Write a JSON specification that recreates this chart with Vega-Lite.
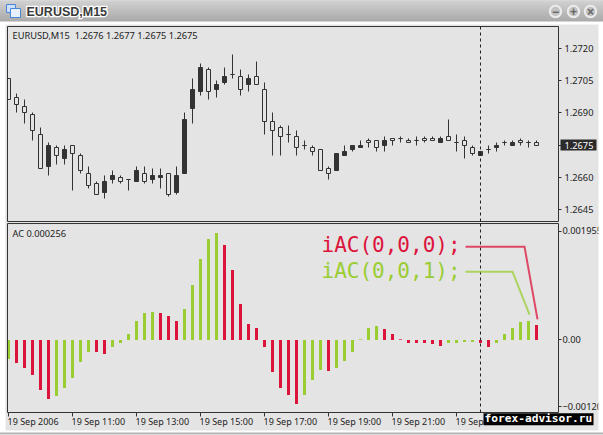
{
"$schema":"https://vega.github.io/schema/vega-lite/v6.json",
"width":603,"height":435,"autosize":{"type":"none"},"padding":{"left":0.5,"top":0.5,"right":0,"bottom":0},
"background":"#e4e4e4",
"config":{"view":{"stroke":null},"style":{"guide-label":{"font":"Noto Sans"}}},
"datasets":{
"bars":[
{"time":"2006-09-19T09:00:00Z","open":1.2706,"high":1.2706,"low":1.2696,"close":1.2696,"ac":-0.000342,"trend":"rising"},
{"time":"2006-09-19T09:15:00Z","open":1.2697,"high":1.2699,"low":1.2690,"close":1.2694,"ac":-0.000414,"trend":"falling"},
{"time":"2006-09-19T09:30:00Z","open":1.2693,"high":1.2696,"low":1.2685,"close":1.2690,"ac":-0.000504,"trend":"falling"},
{"time":"2006-09-19T09:45:00Z","open":1.2689,"high":1.2690,"low":1.2677,"close":1.2682,"ac":-0.000629,"trend":"falling"},
{"time":"2006-09-19T10:00:00Z","open":1.2680,"high":1.2683,"low":1.2664,"close":1.2664,"ac":-0.000899,"trend":"falling"},
{"time":"2006-09-19T10:15:00Z","open":1.2665,"high":1.2676,"low":1.2661,"close":1.2675,"ac":-0.001061,"trend":"falling"},
{"time":"2006-09-19T10:30:00Z","open":1.2674,"high":1.2675,"low":1.2666,"close":1.2670,"ac":-0.001007,"trend":"rising"},
{"time":"2006-09-19T10:45:00Z","open":1.2669,"high":1.2675,"low":1.2666,"close":1.2673,"ac":-0.000863,"trend":"rising"},
{"time":"2006-09-19T11:00:00Z","open":1.2675,"high":1.2675,"low":1.2654,"close":1.2671,"ac":-0.000683,"trend":"rising"},
{"time":"2006-09-19T11:15:00Z","open":1.2670,"high":1.2671,"low":1.2662,"close":1.2663,"ac":-0.000396,"trend":"rising"},
{"time":"2006-09-19T11:30:00Z","open":1.2662,"high":1.2665,"low":1.2655,"close":1.2656,"ac":-0.000216,"trend":"rising"},
{"time":"2006-09-19T11:45:00Z","open":1.2657,"high":1.2658,"low":1.2652,"close":1.2652,"ac":-0.000216,"trend":"falling"},
{"time":"2006-09-19T12:00:00Z","open":1.2653,"high":1.2661,"low":1.2650,"close":1.2658,"ac":-0.000252,"trend":"falling"},
{"time":"2006-09-19T12:15:00Z","open":1.2659,"high":1.2663,"low":1.2657,"close":1.2661,"ac":-0.000126,"trend":"rising"},
{"time":"2006-09-19T12:30:00Z","open":1.2660,"high":1.2661,"low":1.2657,"close":1.2658,"ac":-0.000054,"trend":"rising"},
{"time":"2006-09-19T12:45:00Z","open":1.2659,"high":1.2659,"low":1.2654,"close":1.2659,"ac":0.000108,"trend":"rising"},
{"time":"2006-09-19T13:00:00Z","open":1.2658,"high":1.2665,"low":1.2658,"close":1.2663,"ac":0.000342,"trend":"rising"},
{"time":"2006-09-19T13:15:00Z","open":1.2662,"high":1.2665,"low":1.2657,"close":1.2658,"ac":0.000486,"trend":"rising"},
{"time":"2006-09-19T13:30:00Z","open":1.2659,"high":1.2664,"low":1.2657,"close":1.2661,"ac":0.000504,"trend":"rising"},
{"time":"2006-09-19T13:45:00Z","open":1.2660,"high":1.2664,"low":1.2655,"close":1.2661,"ac":0.000486,"trend":"falling"},
{"time":"2006-09-19T14:00:00Z","open":1.2662,"high":1.2662,"low":1.2651,"close":1.2652,"ac":0.000432,"trend":"falling"},
{"time":"2006-09-19T14:15:00Z","open":1.2653,"high":1.2665,"low":1.2652,"close":1.2661,"ac":0.000342,"trend":"falling"},
{"time":"2006-09-19T14:30:00Z","open":1.2662,"high":1.2690,"low":1.2662,"close":1.2687,"ac":0.000558,"trend":"rising"},
{"time":"2006-09-19T14:45:00Z","open":1.2692,"high":1.2706,"low":1.2685,"close":1.2701,"ac":0.000989,"trend":"rising"},
{"time":"2006-09-19T15:00:00Z","open":1.2700,"high":1.2713,"low":1.2698,"close":1.2711,"ac":0.001457,"trend":"rising"},
{"time":"2006-09-19T15:15:00Z","open":1.2710,"high":1.2711,"low":1.2696,"close":1.2700,"ac":0.001817,"trend":"rising"},
{"time":"2006-09-19T15:30:00Z","open":1.2701,"high":1.2705,"low":1.2697,"close":1.2703,"ac":0.001924,"trend":"rising"},
{"time":"2006-09-19T15:45:00Z","open":1.2704,"high":1.2711,"low":1.2703,"close":1.2707,"ac":0.001709,"trend":"falling"},
{"time":"2006-09-19T16:00:00Z","open":1.2708,"high":1.2717,"low":1.2706,"close":1.2708,"ac":0.001259,"trend":"falling"},
{"time":"2006-09-19T16:15:00Z","open":1.2707,"high":1.2710,"low":1.2698,"close":1.2701,"ac":0.000647,"trend":"falling"},
{"time":"2006-09-19T16:30:00Z","open":1.2703,"high":1.2708,"low":1.2700,"close":1.2706,"ac":0.000288,"trend":"falling"},
{"time":"2006-09-19T16:45:00Z","open":1.2707,"high":1.2714,"low":1.2703,"close":1.2703,"ac":0.000216,"trend":"falling"},
{"time":"2006-09-19T17:00:00Z","open":1.2701,"high":1.2704,"low":1.2680,"close":1.2686,"ac":-0.000126,"trend":"falling"},
{"time":"2006-09-19T17:15:00Z","open":1.2686,"high":1.2690,"low":1.2670,"close":1.2682,"ac":-0.000576,"trend":"falling"},
{"time":"2006-09-19T17:30:00Z","open":1.2683,"high":1.2684,"low":1.2670,"close":1.2679,"ac":-0.000863,"trend":"falling"},
{"time":"2006-09-19T17:45:00Z","open":1.2680,"high":1.2684,"low":1.2676,"close":1.2680,"ac":-0.000989,"trend":"falling"},
{"time":"2006-09-19T18:00:00Z","open":1.2679,"high":1.2682,"low":1.2670,"close":1.2674,"ac":-0.001151,"trend":"falling"},
{"time":"2006-09-19T18:15:00Z","open":1.2675,"high":1.2677,"low":1.2673,"close":1.2675,"ac":-0.000989,"trend":"rising"},
{"time":"2006-09-19T18:30:00Z","open":1.2674,"high":1.2675,"low":1.2670,"close":1.2672,"ac":-0.000719,"trend":"rising"},
{"time":"2006-09-19T18:45:00Z","open":1.2673,"high":1.2673,"low":1.2663,"close":1.2663,"ac":-0.00054,"trend":"rising"},
{"time":"2006-09-19T19:00:00Z","open":1.2664,"high":1.2665,"low":1.2659,"close":1.2662,"ac":-0.000558,"trend":"falling"},
{"time":"2006-09-19T19:15:00Z","open":1.2663,"high":1.2671,"low":1.2663,"close":1.2671,"ac":-0.000504,"trend":"rising"},
{"time":"2006-09-19T19:30:00Z","open":1.2670,"high":1.2675,"low":1.2670,"close":1.2672,"ac":-0.000378,"trend":"rising"},
{"time":"2006-09-19T19:45:00Z","open":1.2673,"high":1.2675,"low":1.2672,"close":1.2675,"ac":-0.000216,"trend":"rising"},
{"time":"2006-09-19T20:00:00Z","open":1.2674,"high":1.2677,"low":1.2674,"close":1.2675,"ac":0.000012,"trend":"rising"},
{"time":"2006-09-19T20:15:00Z","open":1.2677,"high":1.2678,"low":1.2674,"close":1.2676,"ac":0.000216,"trend":"rising"},
{"time":"2006-09-19T20:30:00Z","open":1.2677,"high":1.2677,"low":1.2672,"close":1.2674,"ac":0.000252,"trend":"rising"},
{"time":"2006-09-19T20:45:00Z","open":1.2675,"high":1.2679,"low":1.2672,"close":1.2677,"ac":0.000198,"trend":"falling"},
{"time":"2006-09-19T21:00:00Z","open":1.2678,"high":1.2678,"low":1.2675,"close":1.2677,"ac":0.000108,"trend":"falling"},
{"time":"2006-09-19T21:15:00Z","open":1.2678,"high":1.2679,"low":1.2676,"close":1.2678,"ac":0.000012,"trend":"falling"},
{"time":"2006-09-19T21:30:00Z","open":1.2677,"high":1.2678,"low":1.2676,"close":1.2676,"ac":-0.000054,"trend":"falling"},
{"time":"2006-09-19T21:45:00Z","open":1.2677,"high":1.2679,"low":1.2675,"close":1.2677,"ac":-0.000054,"trend":"falling"},
{"time":"2006-09-19T22:00:00Z","open":1.2678,"high":1.2679,"low":1.2676,"close":1.2677,"ac":-0.000054,"trend":"falling"},
{"time":"2006-09-19T22:15:00Z","open":1.2678,"high":1.2679,"low":1.2677,"close":1.2677,"ac":-0.000072,"trend":"falling"},
{"time":"2006-09-19T22:30:00Z","open":1.2676,"high":1.2679,"low":1.2676,"close":1.2678,"ac":-0.000108,"trend":"falling"},
{"time":"2006-09-19T22:45:00Z","open":1.2679,"high":1.2687,"low":1.2677,"close":1.2677,"ac":-0.000054,"trend":"rising"},
{"time":"2006-09-19T23:00:00Z","open":1.2676,"high":1.2680,"low":1.2672,"close":1.2676,"ac":-0.000054,"trend":"rising"},
{"time":"2006-09-19T23:15:00Z","open":1.2677,"high":1.2679,"low":1.2669,"close":1.2675,"ac":-0.000036,"trend":"rising"},
{"time":"2006-09-19T23:30:00Z","open":1.2674,"high":1.2675,"low":1.2670,"close":1.2671,"ac":-0.000036,"trend":"rising"},
{"time":"2006-09-19T23:45:00Z","open":1.2670,"high":1.2672,"low":1.2670,"close":1.2672,"ac":-0.000054,"trend":"falling"},
{"time":"2006-09-20T00:00:00Z","open":1.2673,"high":1.2675,"low":1.2671,"close":1.2673,"ac":-0.000126,"trend":"falling"},
{"time":"2006-09-20T00:15:00Z","open":1.2674,"high":1.2676,"low":1.2672,"close":1.2675,"ac":-0.000054,"trend":"rising"},
{"time":"2006-09-20T00:30:00Z","open":1.2676,"high":1.2677,"low":1.2675,"close":1.2676,"ac":0.000108,"trend":"rising"},
{"time":"2006-09-20T00:45:00Z","open":1.2675,"high":1.2677,"low":1.2675,"close":1.2676,"ac":0.000216,"trend":"rising"},
{"time":"2006-09-20T01:00:00Z","open":1.2677,"high":1.2678,"low":1.2675,"close":1.2676,"ac":0.000324,"trend":"rising"},
{"time":"2006-09-20T01:15:00Z","open":1.2676,"high":1.2677,"low":1.2674,"close":1.2676,"ac":0.000342,"trend":"rising"},
{"time":"2006-09-20T01:30:00Z","open":1.2676,"high":1.2677,"low":1.2675,"close":1.2675,"ac":0.00027,"trend":"falling"}
],
"callouts":[
{"series":"iAC(0,0,0)","time":"2006-09-19T23:16:30Z","value":0.001679,"trend":"falling"},
{"series":"iAC(0,0,0)","time":"2006-09-20T01:07:30Z","value":0.001679,"trend":"falling"},
{"series":"iAC(0,0,0)","time":"2006-09-20T01:31:20Z","value":0.000372,"trend":"falling"},
{"series":"iAC(0,0,1)","time":"2006-09-19T23:16:30Z","value":0.001229,"trend":"rising"},
{"series":"iAC(0,0,1)","time":"2006-09-20T00:45:00Z","value":0.001229,"trend":"rising"},
{"series":"iAC(0,0,1)","time":"2006-09-20T01:16:20Z","value":0.000456,"trend":"rising"}
],
"calloutLabels":[
{"label":"iAC(0,0,0);","time":"2006-09-19T18:46:00Z","value":0.001682,"trend":"falling"},
{"label":"iAC(0,0,1);","time":"2006-09-19T18:46:00Z","value":0.001217,"trend":"rising"}
],
"buttons":[
{"time":"2006-09-20T02:05:06Z","price":1.273725,"glyph":"−"},
{"time":"2006-09-20T02:38:48Z","price":1.273725,"glyph":"+"},
{"time":"2006-09-20T03:11:48Z","price":1.273725,"glyph":"×"}
],
"one":[{}]
},
"resolve":{"scale":{"y":"independent"},"axis":{"y":"independent"}},
"layer":[
{"layer":[
{"data":{"name":"bars"},"mark":{"type":"rule","color":"#333333","strokeWidth":1},"encoding":{
 "x":{"field":"time","type":"temporal","title":null,"scale":{"type":"utc","domain":[{"year":2006,"month":9,"date":19,"hours":8,"minutes":44,"utc":true},{"year":2006,"month":9,"date":20,"hours":3,"minutes":40,"utc":true}],"range":[-0.533,605.333],"round":true,"nice":false,"padding":0},
  "axis":{"orient":"bottom","offset":-23,"translate":0,"title":null,"grid":false,"domain":false,"tickColor":"#333333","tickSize":4,"labelColor":"#222222","labelFontSize":9,"labelAlign":"left","labelPadding":1,"labelOverlap":false,"labelFlush":false,"labelOffset":-1,
  "values":[{"year":2006,"month":9,"date":19,"hours":9,"utc":true},{"year":2006,"month":9,"date":19,"hours":11,"utc":true},{"year":2006,"month":9,"date":19,"hours":13,"utc":true},{"year":2006,"month":9,"date":19,"hours":15,"utc":true},{"year":2006,"month":9,"date":19,"hours":17,"utc":true},{"year":2006,"month":9,"date":19,"hours":19,"utc":true},{"year":2006,"month":9,"date":19,"hours":21,"utc":true},{"year":2006,"month":9,"date":19,"hours":23,"utc":true}],
  "labelExpr":"utcFormat(datum.value,'%H:%M')=='09:00'?'19 Sep 2006':utcFormat(datum.value,'%H:%M')=='23:00'?'19 Sep':utcFormat(datum.value,'%d %b %H:%M')"}},
 "y":{"field":"high","type":"quantitative","title":null,"scale":{"domain":[1.263949,1.273013],"range":[221,26],"round":true,"zero":false,"nice":false},
  "axis":{"orient":"right","offset":-45,"translate":0,"title":null,"grid":false,"domain":false,"tickColor":"#333333","tickSize":3,"labelColor":"#222222","labelFontSize":9.25,"labelPadding":3,"labelOverlap":false,"labelFlush":false,"values":[1.272,1.2705,1.269,1.2675,1.266,1.2645],"labelExpr":"datum.value==1.2675?'':format(datum.value,'.4f')"}},
 "y2":{"field":"low"}}},
{"data":{"name":"bars"},"mark":{"type":"bar","orient":"vertical","size":4,"stroke":"#333333","strokeWidth":1},"encoding":{
 "x":{"field":"time","type":"temporal","axis":{"title":null}},"y":{"field":"open","type":"quantitative","axis":{"title":null}},"y2":{"field":"close"},
 "fill":{"condition":{"test":"datum.close > datum.open","value":"#333333"},"value":"#e4e4e4"}}},
{"data":{"name":"one"},"mark":{"type":"rect","fill":"#ffffff"},"encoding":{"x":{"datum":{"year":2006,"month":9,"date":19,"hours":8,"minutes":44,"utc":true},"type":"temporal","axis":{"title":null}},"x2":{"datum":{"year":2006,"month":9,"date":19,"hours":8,"minutes":54,"seconds":22,"utc":true}},"y":{"datum":1.27427,"axis":{"title":null}},"y2":{"datum":1.2540}}},
{"data":{"name":"one"},"mark":{"type":"rect","fill":"#ffffff"},"encoding":{"x":{"datum":{"year":2006,"month":9,"date":20,"hours":3,"minutes":26,"seconds":15,"utc":true},"type":"temporal","axis":{"title":null}},"x2":{"datum":{"year":2006,"month":9,"date":20,"hours":3,"minutes":40,"utc":true}},"y":{"datum":1.27427,"axis":{"title":null}},"y2":{"datum":1.2540}}},
{"data":{"name":"one"},"mark":{"type":"rect","fill":"#ffffff"},"encoding":{"x":{"datum":{"year":2006,"month":9,"date":19,"hours":8,"minutes":44,"utc":true},"type":"temporal","axis":{"title":null}},"x2":{"datum":{"year":2006,"month":9,"date":20,"hours":3,"minutes":40,"utc":true}},"y":{"datum":1.27427,"axis":{"title":null}},"y2":{"datum":1.273106}}},
{"data":{"name":"one"},"mark":{"type":"rect","fill":"#ffffff"},"encoding":{"x":{"datum":{"year":2006,"month":9,"date":19,"hours":8,"minutes":44,"utc":true},"type":"temporal","axis":{"title":null}},"x2":{"datum":{"year":2006,"month":9,"date":20,"hours":3,"minutes":40,"utc":true}},"y":{"datum":1.254234,"axis":{"title":null}},"y2":{"datum":1.2540}}},
{"data":{"name":"one"},"mark":{"type":"rect","fill":"#b4b4b4"},"encoding":{"x":{"datum":{"year":2006,"month":9,"date":19,"hours":8,"minutes":44,"utc":true},"type":"temporal","axis":{"title":null}},"x2":{"datum":{"year":2006,"month":9,"date":20,"hours":3,"minutes":40,"utc":true}},"y":{"datum":1.254141,"axis":{"title":null}},"y2":{"datum":1.254048}}},
{"data":{"name":"one"},"mark":{"type":"rect","fill":{"gradient":"linear","x1":0,"y1":0,"x2":0,"y2":1,"stops":[{"offset":0,"color":"#dedede"},{"offset":0.1,"color":"#cfcfcf"},{"offset":1,"color":"#a9a9a9"}]}},"encoding":{"x":{"datum":{"year":2006,"month":9,"date":19,"hours":8,"minutes":44,"utc":true},"type":"temporal","axis":{"title":null}},"x2":{"datum":{"year":2006,"month":9,"date":20,"hours":3,"minutes":40,"utc":true}},"y":{"datum":1.27427,"axis":{"title":null}},"y2":{"datum":1.273246}}},
{"data":{"name":"one"},"mark":{"type":"rect","fill":"#cfe0f8","stroke":"#4a86d8","strokeWidth":1},"encoding":{"x":{"datum":{"year":2006,"month":9,"date":19,"hours":8,"minutes":56,"seconds":15,"utc":true},"type":"temporal","axis":{"title":null}},"x2":{"datum":{"year":2006,"month":9,"date":19,"hours":9,"minutes":13,"seconds":7,"utc":true}},"y":{"datum":1.274036,"axis":{"title":null}},"y2":{"datum":1.273664}}},
{"data":{"name":"one"},"mark":{"type":"rect","fill":"#e8f0fc","stroke":"#4a86d8","strokeWidth":1},"encoding":{"x":{"datum":{"year":2006,"month":9,"date":19,"hours":9,"minutes":3,"seconds":45,"utc":true},"type":"temporal","axis":{"title":null}},"x2":{"datum":{"year":2006,"month":9,"date":19,"hours":9,"minutes":22,"seconds":30,"utc":true}},"y":{"datum":1.27385,"axis":{"title":null}},"y2":{"datum":1.273432}}},
{"data":{"name":"one"},"mark":{"type":"text","text":"EURUSD,M15","font":"Liberation Sans","fontWeight":"bold","fontSize":12.5,"align":"left","baseline":"middle","fill":"#ffffff","stroke":"#ffffff","strokeWidth":2.5},"encoding":{"x":{"datum":{"year":2006,"month":9,"date":19,"hours":9,"minutes":33,"seconds":45,"utc":true},"type":"temporal","axis":{"title":null}},"y":{"datum":1.273711,"axis":{"title":null}}}},
{"data":{"name":"one"},"mark":{"type":"text","text":"EURUSD,M15","font":"Liberation Sans","fontWeight":"bold","fontSize":12.5,"align":"left","baseline":"middle","fill":"#3a3a3a"},"encoding":{"x":{"datum":{"year":2006,"month":9,"date":19,"hours":9,"minutes":33,"seconds":45,"utc":true},"type":"temporal","axis":{"title":null}},"y":{"datum":1.273711,"axis":{"title":null}}}},
{"data":{"name":"buttons"},"mark":{"type":"point","filled":true,"fill":"#c2c2c2","stroke":"#ececec","strokeWidth":2,"size":130,"opacity":1},"encoding":{"x":{"field":"time","type":"temporal","axis":{"title":null}},"y":{"field":"price","type":"quantitative","axis":{"title":null}}}},
{"data":{"name":"buttons"},"mark":{"type":"text","font":"Liberation Sans","fontWeight":"bold","fontSize":12,"fill":"#666666","baseline":"middle","align":"center"},"encoding":{"x":{"field":"time","type":"temporal","axis":{"title":null}},"y":{"field":"price","type":"quantitative","axis":{"title":null}},"text":{"field":"glyph"}}},
{"data":{"name":"one"},"mark":{"type":"rect","fill":"#e4e4e4"},"encoding":{"x":{"datum":{"year":2006,"month":9,"date":19,"hours":8,"minutes":54,"seconds":22,"utc":true},"type":"temporal","axis":{"title":null}},"x2":{"datum":{"year":2006,"month":9,"date":19,"hours":8,"minutes":58,"seconds":7,"utc":true}},"y":{"datum":1.273013,"axis":{"title":null}},"y2":{"datum":1.263949}}},
{"data":{"name":"one"},"mark":{"type":"rect","fill":null,"stroke":"#333333","strokeWidth":1},"encoding":{"x":{"datum":{"year":2006,"month":9,"date":19,"hours":8,"minutes":58,"seconds":7,"utc":true},"type":"temporal","axis":{"title":null}},"x2":{"datum":{"year":2006,"month":9,"date":20,"hours":2,"minutes":11,"seconds":15,"utc":true}},"y":{"datum":1.273013,"axis":{"title":null}},"y2":{"datum":1.263949}}},
{"data":{"name":"one"},"mark":{"type":"rule","color":"#222222","strokeWidth":1,"strokeDash":[3,3]},"encoding":{"x":{"datum":{"year":2006,"month":9,"date":19,"hours":23,"minutes":45,"utc":true},"type":"temporal","axis":{"title":null}},"y":{"datum":1.273013,"axis":{"title":null}},"y2":{"datum":1.263949}}},
{"data":{"name":"one"},"mark":{"type":"rect","fill":"#2b2b2b"},"encoding":{"x":{"datum":{"year":2006,"month":9,"date":20,"hours":2,"minutes":15,"utc":true},"type":"temporal","axis":{"title":null}},"x2":{"datum":{"year":2006,"month":9,"date":20,"hours":3,"minutes":22,"seconds":30,"utc":true}},"y":{"datum":1.26774,"axis":{"title":null}},"y2":{"datum":1.26726}}},
{"data":{"name":"one"},"mark":{"type":"text","text":"1.2675","font":"Noto Sans","fontSize":9.25,"fill":"#ffffff","align":"left","baseline":"middle"},"encoding":{"x":{"datum":{"year":2006,"month":9,"date":20,"hours":2,"minutes":23,"utc":true},"type":"temporal","axis":{"title":null}},"y":{"datum":1.2675,"axis":{"title":null}}}},
{"data":{"name":"one"},"mark":{"type":"text","text":"EURUSD,M15\u00a0\u00a01.2676 1.2677 1.2675 1.2675","font":"Noto Sans","fontSize":9.25,"fill":"#222222","align":"left","baseline":"middle"},"encoding":{"x":{"datum":{"year":2006,"month":9,"date":19,"hours":9,"minutes":7,"seconds":30,"utc":true},"type":"temporal","axis":{"title":null}},"y":{"datum":1.272614,"axis":{"title":null}}}}
]},
{"layer":[
{"data":{"name":"bars"},"mark":{"type":"bar","orient":"vertical","size":3},"encoding":{
 "x":{"field":"time","type":"temporal","axis":{"title":null}},
 "y":{"field":"ac","type":"quantitative","title":null,"stack":null,"scale":{"domain":[-0.001295,0.0020863],"range":[411.5,223.5],"zero":false,"nice":false},
  "axis":{"orient":"right","offset":-45,"translate":0,"title":null,"grid":false,"domain":false,"tickColor":"#333333","tickSize":3,"labelColor":"#222222","labelFontSize":9.25,"labelPadding":1,"labelOverlap":false,"labelFlush":false,"values":[0.001955,0,-0.0012],
  "labelExpr":"datum.value==0?'0.00':datum.value<0?format(datum.value,'.5f'):format(datum.value,'.6f')"}},
 "color":{"field":"trend","type":"nominal","legend":null,"scale":{"domain":["rising","falling"],"range":["#9acd32","#dc143c"]}}}},
{"data":{"name":"one"},"mark":{"type":"rect","fill":"#e4e4e4"},"encoding":{"x":{"datum":{"year":2006,"month":9,"date":19,"hours":8,"minutes":54,"seconds":22,"utc":true},"type":"temporal","axis":{"title":null}},"x2":{"datum":{"year":2006,"month":9,"date":19,"hours":8,"minutes":58,"seconds":7,"utc":true}},"y":{"datum":0.002095,"axis":{"title":null}},"y2":{"datum":-0.001304}}},
{"data":{"name":"one"},"mark":{"type":"rect","fill":null,"stroke":"#333333","strokeWidth":1},"encoding":{"x":{"datum":{"year":2006,"month":9,"date":19,"hours":8,"minutes":58,"seconds":7,"utc":true},"type":"temporal","axis":{"title":null}},"x2":{"datum":{"year":2006,"month":9,"date":20,"hours":2,"minutes":11,"seconds":15,"utc":true}},"y":{"datum":0.002095,"axis":{"title":null}},"y2":{"datum":-0.001304}}},
{"data":{"name":"one"},"mark":{"type":"rule","color":"#222222","strokeWidth":1,"strokeDash":[3,3]},"encoding":{"x":{"datum":{"year":2006,"month":9,"date":19,"hours":23,"minutes":45,"utc":true},"type":"temporal","axis":{"title":null}},"y":{"datum":0.002095,"axis":{"title":null}},"y2":{"datum":-0.001304}}},
{"data":{"name":"callouts"},"mark":{"type":"line","strokeWidth":2,"opacity":0.75},"encoding":{"x":{"field":"time","type":"temporal","axis":{"title":null}},"y":{"field":"value","type":"quantitative","axis":{"title":null}},"detail":{"field":"series"},"color":{"field":"trend","type":"nominal","legend":null}}},
{"data":{"name":"calloutLabels"},"mark":{"type":"text","font":"DejaVu Sans Mono","fontSize":21,"align":"left","baseline":"middle"},"encoding":{"x":{"field":"time","type":"temporal","axis":{"title":null}},"y":{"field":"value","type":"quantitative","axis":{"title":null}},"text":{"field":"label"},"color":{"field":"trend","type":"nominal","legend":null}}},
{"data":{"name":"one"},"mark":{"type":"text","text":"AC 0.000256","font":"Noto Sans","fontSize":9.25,"fill":"#222222","align":"left","baseline":"middle"},"encoding":{"x":{"datum":{"year":2006,"month":9,"date":19,"hours":9,"minutes":7,"seconds":30,"utc":true},"type":"temporal","axis":{"title":null}},"y":{"datum":0.001906,"axis":{"title":null}}}},
{"data":{"name":"one"},"mark":{"type":"rect","fill":"#000000"},"encoding":{"x":{"datum":{"year":2006,"month":9,"date":19,"hours":23,"minutes":51,"utc":true},"type":"temporal","axis":{"title":null}},"x2":{"datum":{"year":2006,"month":9,"date":20,"hours":3,"minutes":16,"seconds":20,"utc":true}},"y":{"datum":-0.001317,"axis":{"title":null}},"y2":{"datum":-0.001532}}},
{"data":{"name":"one"},"mark":{"type":"text","text":"forex-advisor.ru","font":"DejaVu Sans Mono","fontWeight":"bold","fontSize":11.2,"fill":"#ffffff","align":"left","baseline":"middle"},"encoding":{"x":{"datum":{"year":2006,"month":9,"date":19,"hours":23,"minutes":53,"utc":true},"type":"temporal","axis":{"title":null}},"y":{"datum":-0.001421,"axis":{"title":null}}}}
]}
]}
